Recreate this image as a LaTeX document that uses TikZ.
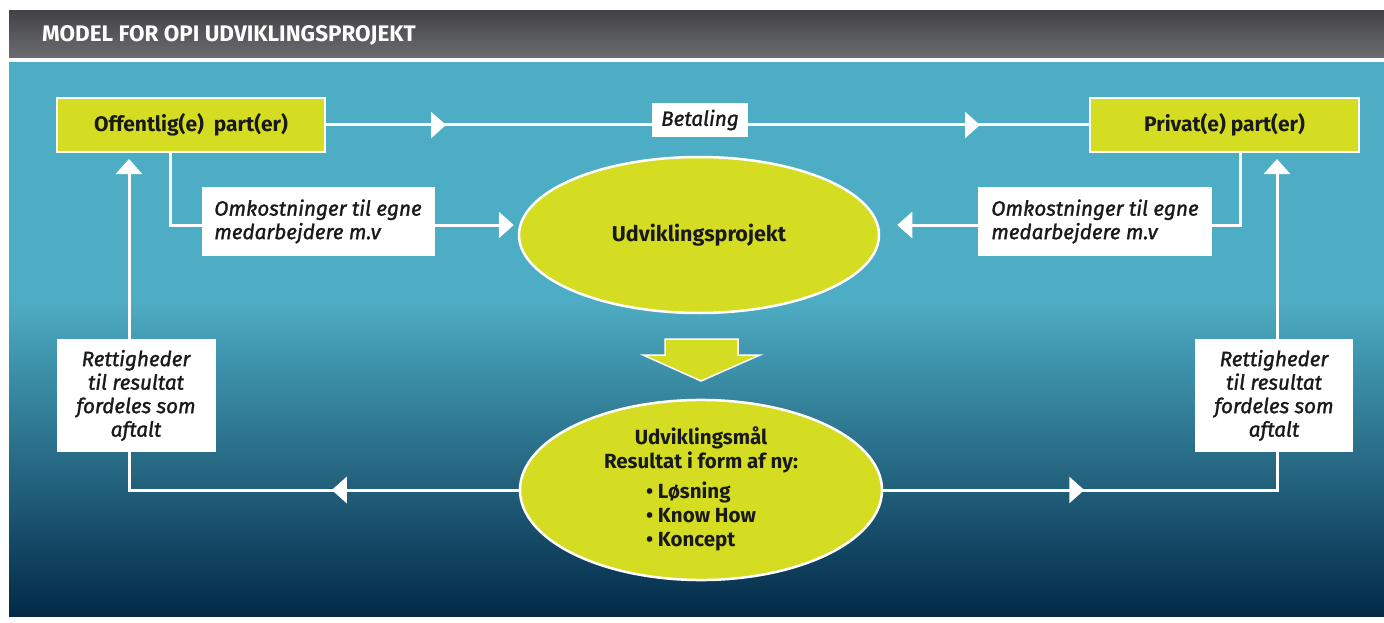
\documentclass[tikz,border=0pt]{standalone}
\usepackage{fontspec}
\setmainfont{Fira Sans}[ItalicFeatures={FakeBold=1.4}]
\usetikzlibrary{positioning,shapes.geometric,arrows.meta,decorations.markings}

\definecolor{opiteal}{RGB}{77,173,196}
\definecolor{opimid}{RGB}{22,101,135}
\definecolor{opinavy}{RGB}{3,42,72}
\definecolor{opilime}{RGB}{213,221,34}
\definecolor{opiink}{RGB}{25,25,25}
\definecolor{opihead}{RGB}{66,66,71}
\definecolor{opiheadlow}{RGB}{108,109,113}

\tikzset{
  flowtip/.tip={Triangle[width=26pt,length=15pt]},
  partbox/.style={rectangle, fill=opilime, draw=white, line width=2pt, minimum height=54pt,
    text=opiink, font=\fontsize{21}{24}\selectfont\bfseries},
  labelbox/.style={rectangle, fill=white, text=opiink, inner sep=0pt,
    font=\fontsize{20.7}{23.5}\selectfont\itshape},
  goal/.style={ellipse, fill=opilime, draw=white, line width=2.5pt, inner sep=0pt, text=opiink},
  wire/.style={white, line width=3pt},
  tipat/.style={postaction={decorate, decoration={markings, mark=at position #1 with {\arrow{flowtip}}}}}
}

\begin{document}
\begin{tikzpicture}[x=1pt, y=-1pt]
    \useasboundingbox (0,0) rectangle (1384,623);
    \fill[white] (0,0) rectangle (1384,623);

    % 1. Background: grey title bar and blue field
    \fill[top color=opihead, bottom color=opiheadlow] (9,11) rectangle (1384,58);
    \fill[opiteal] (9,62) rectangle (1384,301);
    \fill[top color=opiteal, middle color=opimid, bottom color=opinavy] (9,300) rectangle (1384,616);
    \node[anchor=base west, inner sep=0pt, text=white, font=\fontsize{22.5}{24}\selectfont\bfseries] (title) at (42,42) {MODEL FOR OPI UDVIKLINGSPROJEKT};

    % 2. Parties and project
    \node[partbox, minimum width=268pt] (off) at (191,125) {Offentlig(e)\ \ part(er)};
    \node[partbox, minimum width=269pt] (priv) at (1224.5,125) {Privat(e) part(er)};
    \node[goal, minimum width=360pt, minimum height=156pt, font=\fontsize{21.5}{24}\selectfont\bfseries] (proj) at (699,235) {Udviklingsprojekt};
    \node[goal, minimum width=362pt, minimum height=172pt, align=center, font=\fontsize{20.5}{24}\selectfont\bfseries] (res) at (701,490)
        {Udviklingsmål\\Resultat i form af ny:\\[8pt]\begin{tabular}{@{}l@{}}• Løsning\\• Know How\\• Koncept\end{tabular}};

    % block arrow from project to result
    \filldraw[fill=opilime, draw=white, line width=1.5pt] (665,339) -- (738,339) -- (738,355) -- (760,355)
        -- (701,381) -- (643,355) -- (665,355) -- cycle;

    % 3. Flows
    % payment
    \draw[wire, tipat=120pt, tipat=654pt] (off.east) -- (priv.west);
    % own costs
    \draw[wire, -flowtip] ([xshift=-21pt]off.south) |- ([xshift=-4pt,yshift=10pt]proj.west);
    \draw[wire, -flowtip] ([xshift=15.5pt]priv.south) |- ([xshift=17pt,yshift=10pt]proj.east);
    % rights back to the parties
    \draw[wire, tipat=187pt, -flowtip] (res.west) -| ([xshift=73pt,yshift=-6pt]off.south west);
    \draw[wire, tipat=201pt, -flowtip] (res.east) -| ([xshift=-83pt,yshift=-6pt]priv.south east);

    % 4. Labels on the flows
    \node[labelbox, minimum width=96pt, minimum height=34pt] (pay) at (700,120) {Betaling};
    \node[labelbox, minimum width=233pt, minimum height=69pt, align=left] (costoff) at (318,221.5) {Omkostninger til egne\\medarbejdere m.v};
    \node[labelbox, minimum width=234pt, minimum height=69pt, align=left] (costpriv) at (1095,221.5) {Omkostninger til egne\\medarbejdere m.v};
    \node[labelbox, minimum width=159pt, minimum height=113pt, align=center] (rightsoff) at (136,395.5) {Rettigheder\\til resultat\\fordeles som\\aftalt};
    \node[labelbox, minimum width=158pt, minimum height=113pt, align=center] (rightspriv) at (1274,395.5) {Rettigheder\\til resultat\\fordeles som\\aftalt};
\end{tikzpicture}
\end{document}
